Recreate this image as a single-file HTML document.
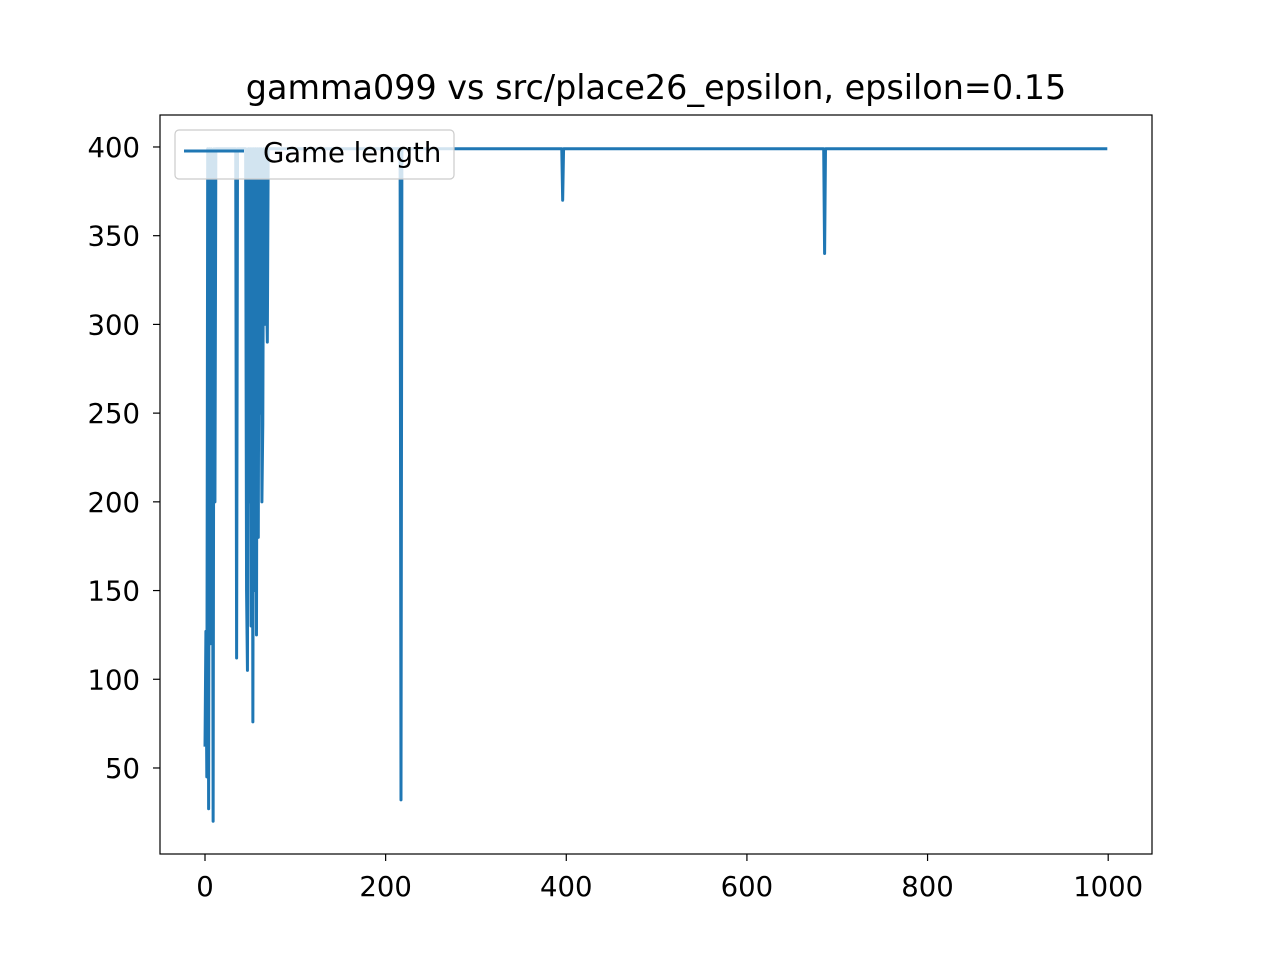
<!DOCTYPE html>
<html><head><meta charset="utf-8"><style>
body{margin:0;background:#fff;}
svg text{font-family:"DejaVu Sans","Liberation Sans",sans-serif;fill:#000;}
</style></head><body>
<svg width="1280" height="960">
<rect x="0" y="0" width="1280" height="960" fill="#fff"/>
<text x="656" y="99" font-size="33.4" text-anchor="middle">gamma099 vs src/place26_epsilon, epsilon=0.15</text>
<g id="plot"></g>
<rect x="160" y="115" width="992" height="739" fill="none" stroke="#000" stroke-width="1.2"/>
<g id="xt"></g>
<g id="yt"></g>
<g>
<rect x="175" y="130" width="279" height="49" rx="4" fill="#fff" fill-opacity="0.8" stroke="#ccc" stroke-width="1.2"/>
<line x1="184" y1="151" x2="244" y2="151" stroke="#1f77b4" stroke-width="3"/>
<text x="263" y="162" font-size="27.5">Game length</text>
</g>
</svg>
<script>
const count = 1000;
const baseValue = 399;
const dipIndex = [0,1,2,3,4,5,6,7,8,9,10,11,12,35,45,46,47,48,49,50,51,52,53,54,55,56,57,58,59,60,61,62,63,64,65,66,67,68,69,70,217,396,686];
const dipValue = [62,127,45,399,27,399,120,399,300,20,399,200,399,112,399,150,105,399,200,399,130,399,76,399,150,399,125,399,180,399,250,399,200,244,399,300,399,320,290,399,32,370,340];
const xTicks = [0,200,400,600,800,1000];
const yTicks = [50,100,150,200,250,300,350,400];
const ns="http://www.w3.org/2000/svg";
function X(v){return 205+v*0.9032;}
function Y(v){return 856.7-v*1.7743;}
const vals=[];
for(let i=0;i<count;i++)vals.push(baseValue);
dipIndex.forEach((k,j)=>{vals[k]=dipValue[j];});
const plot=document.getElementById('plot');
const p=document.createElementNS(ns,'path');


p.setAttribute('d',vals.map((v,i)=>(i?'L':'M')+X(i).toFixed(2)+' '+Y(v).toFixed(2)).join(''));
p.setAttribute('fill','none');p.setAttribute('stroke','#1f77b4');p.setAttribute('stroke-width','3');p.setAttribute('stroke-linejoin','round');
plot.appendChild(p);
const xt=document.getElementById('xt');
xTicks.forEach(t=>{
 const l=document.createElementNS(ns,'line');
 
 
 l.setAttribute('x1',X(t));l.setAttribute('x2',X(t));l.setAttribute('y1',854);l.setAttribute('y2',861);l.setAttribute('stroke','#000');l.setAttribute('stroke-width','1.2');
 xt.appendChild(l);
 const s=document.createElementNS(ns,'text');
 
 
 s.setAttribute('x',X(t));s.setAttribute('y',896);s.setAttribute('font-size','27.5');s.setAttribute('text-anchor','middle');
 s.textContent=t;xt.appendChild(s);
});
const yt=document.getElementById('yt');
yTicks.forEach(t=>{
 const l=document.createElementNS(ns,'line');
 
 
 l.setAttribute('x1',153);l.setAttribute('x2',160);l.setAttribute('y1',Y(t));l.setAttribute('y2',Y(t));l.setAttribute('stroke','#000');l.setAttribute('stroke-width','1.2');
 yt.appendChild(l);
 const s=document.createElementNS(ns,'text');
 
 
 s.setAttribute('x',140);s.setAttribute('y',Y(t)+10);s.setAttribute('font-size','27.5');s.setAttribute('text-anchor','end');
 s.textContent=t;yt.appendChild(s);
});
</script>
</body></html>
